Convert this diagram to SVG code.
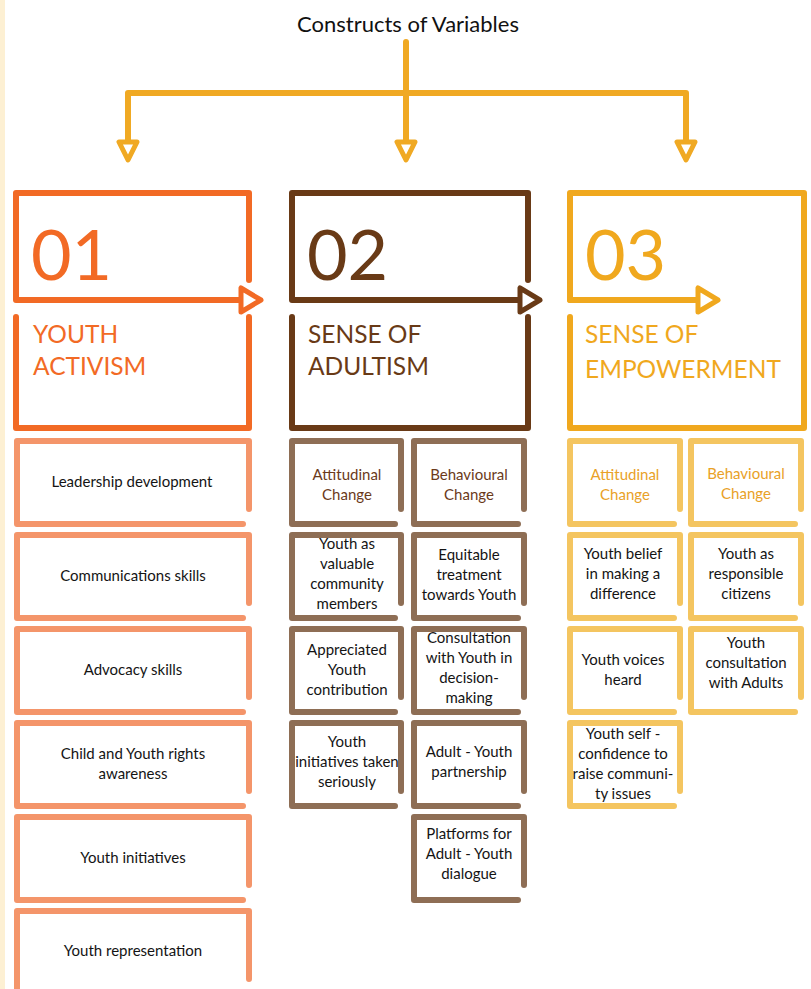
<svg xmlns="http://www.w3.org/2000/svg" xmlns:xlink="http://www.w3.org/1999/xlink" width="811" height="989" viewBox="0 0 811 989">
  <style>
    .title { font-family: "Lato", "Liberation Sans", sans-serif; font-size: 22px; fill: #111; }
    .num { font-family: "Lato", "Liberation Sans", sans-serif; font-size: 70px; font-weight: 400; }
    .head { font-family: "Lato", "Liberation Sans", sans-serif; font-size: 24.5px; }
    .lbl { font-family: "Lato", "Liberation Sans", sans-serif; font-size: 15px; fill: #141414; text-anchor: middle; }
    .frame { fill: none; stroke-width: 6; stroke-linecap: round; stroke-linejoin: round; }
    .card { fill: none; stroke-width: 6; stroke-linecap: round; stroke-linejoin: round; }
    .conn { fill: none; stroke: #F0A923; stroke-width: 6; stroke-linecap: round; stroke-linejoin: round; }
    .tip { fill: #fff; stroke-width: 5; stroke-linejoin: round; }
    .c1 { stroke: #F26A25; } .t1 { fill: #F26A25; }
    .c2 { stroke: #693A16; } .t2 { fill: #693A16; }
    .c3 { stroke: #F0A81E; } .t3 { fill: #F0A81E; }
    .l1 { stroke: #F4956A; }
    .l2 { stroke: #8E6E55; }
    .l3 { stroke: #F4C560; }
    .h2 { fill: #6B3A1A; }
    .h3 { fill: #E9A127; }
  </style>
  <defs>
    <path id="tip-down" d="M-9 0 H9 L0 18 Z"/>
    <path id="tip-right" d="M0 -12 V12 L20 0 Z"/>
  </defs>

  <!-- page margin strip -->
  <rect x="0" y="0" width="5" height="989" fill="#FDF0D3"/>

  <g id="title">
    <text class="title" x="408" y="32" text-anchor="middle">Constructs of Variables</text>
  </g>

  <!-- connectors from the title to the three constructs -->
  <g id="connectors">
    <path class="conn" d="M406 42 V93"/>
    <path class="conn" d="M128 142 V93 H686 V142"/>
    <path class="conn" d="M406 93 V142"/>
    <use xlink:href="#tip-down" class="tip" stroke="#F0A923" transform="translate(128 142)"/>
    <use xlink:href="#tip-down" class="tip" stroke="#F0A923" transform="translate(406 142)"/>
    <use xlink:href="#tip-down" class="tip" stroke="#F0A923" transform="translate(686 142)"/>
  </g>

  <!-- construct 01 -->
  <g id="youth-activism">
    <path class="frame c1" d="M249 280 V193 H16 V300 H241"/>
    <use xlink:href="#tip-right" class="tip" stroke="#F26A25" transform="translate(241 300)"/>
    <path class="frame c1" d="M16 317 V428 H249 V317"/>
    <text class="num t1" x="31" y="280">01</text>
    <text class="head t1" x="33" y="343">YOUTH</text>
    <text class="head t1" x="33" y="375">ACTIVISM</text>
  </g>

  <!-- construct 02 -->
  <g id="sense-of-adultism">
    <path class="frame c2" d="M528 280 V193 H292 V300 H520"/>
    <use xlink:href="#tip-right" class="tip" stroke="#693A16" transform="translate(520 300)"/>
    <path class="frame c2" d="M292 317 V428 H528 V317"/>
    <text class="num t2" x="307" y="280">02</text>
    <text class="head t2" x="308" y="343">SENSE OF</text>
    <text class="head t2" x="308" y="375">ADULTISM</text>
  </g>

  <!-- construct 03 -->
  <g id="sense-of-empowerment">
    <path class="frame c3" d="M570 300 V193 H804 V428 H570 V317"/>
    <path class="frame c3" d="M570 300 H698"/>
    <use xlink:href="#tip-right" class="tip" stroke="#F0A81E" transform="translate(698 300)"/>
    <text class="num t3" x="585" y="280">03</text>
    <text class="head t3" x="585" y="343">SENSE OF</text>
    <text class="head t3" x="585" y="378">EMPOWERMENT</text>
  </g>

  <!-- youth activism items -->
  <g id="leadership-development">
    <path class="card l1" d="M249 509 V441 H17 V524 H243"/>
    <text class="lbl" x="132" y="487">Leadership development</text>
  </g>
  <g id="communications-skills">
    <path class="card l1" d="M249 603 V535 H17 V618 H243"/>
    <text class="lbl" x="133" y="581">Communications skills</text>
  </g>
  <g id="advocacy-skills">
    <path class="card l1" d="M249 697 V629 H17 V712 H243"/>
    <text class="lbl" x="133" y="675">Advocacy skills</text>
  </g>
  <g id="rights-awareness">
    <path class="card l1" d="M249 791 V723 H17 V806 H243"/>
    <text class="lbl" x="133" y="759">Child and Youth rights</text>
    <text class="lbl" x="133" y="779">awareness</text>
  </g>
  <g id="youth-initiatives">
    <path class="card l1" d="M249 885 V817 H17 V900 H243"/>
    <text class="lbl" x="133" y="863">Youth initiatives</text>
  </g>
  <g id="youth-representation">
    <path class="card l1" d="M249 979 V911 H17 V994 H243"/>
    <text class="lbl" x="133" y="956">Youth representation</text>
  </g>

  <!-- sense of adultism items -->
  <g id="adultism-attitudinal">
    <path class="card l2" d="M401 509 V441 H292 V524 H395"/>
    <text class="lbl h2" x="347" y="480">Attitudinal</text>
    <text class="lbl h2" x="347" y="500">Change</text>
  </g>
  <g id="adultism-behavioural">
    <path class="card l2" d="M524 509 V441 H414 V524 H518"/>
    <text class="lbl h2" x="469" y="480">Behavioural</text>
    <text class="lbl h2" x="469" y="500">Change</text>
  </g>
  <g id="valuable-members">
    <path class="card l2" d="M401 603 V535 H292 V618 H395"/>
    <text class="lbl" x="347" y="549">Youth as</text>
    <text class="lbl" x="347" y="569">valuable</text>
    <text class="lbl" x="347" y="589">community</text>
    <text class="lbl" x="347" y="609">members</text>
  </g>
  <g id="equitable-treatment">
    <path class="card l2" d="M524 603 V535 H414 V618 H518"/>
    <text class="lbl" x="469" y="560">Equitable</text>
    <text class="lbl" x="469" y="580">treatment</text>
    <text class="lbl" x="469" y="600">towards Youth</text>
  </g>
  <g id="appreciated-contribution">
    <path class="card l2" d="M401 697 V629 H292 V712 H395"/>
    <text class="lbl" x="347" y="655">Appreciated</text>
    <text class="lbl" x="347" y="675">Youth</text>
    <text class="lbl" x="347" y="695">contribution</text>
  </g>
  <g id="consultation-decision">
    <path class="card l2" d="M524 697 V629 H414 V712 H518"/>
    <text class="lbl" x="469" y="643">Consultation</text>
    <text class="lbl" x="469" y="663">with Youth in</text>
    <text class="lbl" x="469" y="683">decision-</text>
    <text class="lbl" x="469" y="703">making</text>
  </g>
  <g id="initiatives-seriously">
    <path class="card l2" d="M401 791 V723 H292 V806 H395"/>
    <text class="lbl" x="347" y="747">Youth</text>
    <text class="lbl" x="347" y="767">initiatives taken</text>
    <text class="lbl" x="347" y="787">seriously</text>
  </g>
  <g id="adult-youth-partnership">
    <path class="card l2" d="M524 791 V723 H414 V806 H518"/>
    <text class="lbl" x="469" y="757">Adult - Youth</text>
    <text class="lbl" x="469" y="777">partnership</text>
  </g>
  <g id="dialogue-platforms">
    <path class="card l2" d="M524 885 V817 H414 V900 H518"/>
    <text class="lbl" x="469" y="839">Platforms for</text>
    <text class="lbl" x="469" y="859">Adult - Youth</text>
    <text class="lbl" x="469" y="879">dialogue</text>
  </g>

  <!-- sense of empowerment items -->
  <g id="empowerment-attitudinal">
    <path class="card l3" d="M680 509 V441 H570 V524 H674"/>
    <text class="lbl h3" x="625" y="480">Attitudinal</text>
    <text class="lbl h3" x="625" y="500">Change</text>
  </g>
  <g id="empowerment-behavioural">
    <path class="card l3" d="M801 509 V441 H691 V524 H795"/>
    <text class="lbl h3" x="746" y="479">Behavioural</text>
    <text class="lbl h3" x="746" y="499">Change</text>
  </g>
  <g id="belief-difference">
    <path class="card l3" d="M680 603 V535 H570 V618 H674"/>
    <text class="lbl" x="623" y="559">Youth belief</text>
    <text class="lbl" x="623" y="579">in making a</text>
    <text class="lbl" x="623" y="599">difference</text>
  </g>
  <g id="responsible-citizens">
    <path class="card l3" d="M801 603 V535 H691 V618 H795"/>
    <text class="lbl" x="746" y="559">Youth as</text>
    <text class="lbl" x="746" y="579">responsible</text>
    <text class="lbl" x="746" y="599">citizens</text>
  </g>
  <g id="voices-heard">
    <path class="card l3" d="M680 697 V629 H570 V712 H674"/>
    <text class="lbl" x="623" y="665">Youth voices</text>
    <text class="lbl" x="623" y="685">heard</text>
  </g>
  <g id="consultation-adults">
    <path class="card l3" d="M801 697 V629 H691 V712 H795"/>
    <text class="lbl" x="746" y="648">Youth</text>
    <text class="lbl" x="746" y="668">consultation</text>
    <text class="lbl" x="746" y="688">with Adults</text>
  </g>
  <g id="self-confidence">
    <path class="card l3" d="M680 791 V723 H570 V806 H674"/>
    <text class="lbl" x="623" y="739">Youth self -</text>
    <text class="lbl" x="623" y="759">confidence to</text>
    <text class="lbl" x="623" y="779">raise communi-</text>
    <text class="lbl" x="623" y="799">ty issues</text>
  </g>
</svg>
